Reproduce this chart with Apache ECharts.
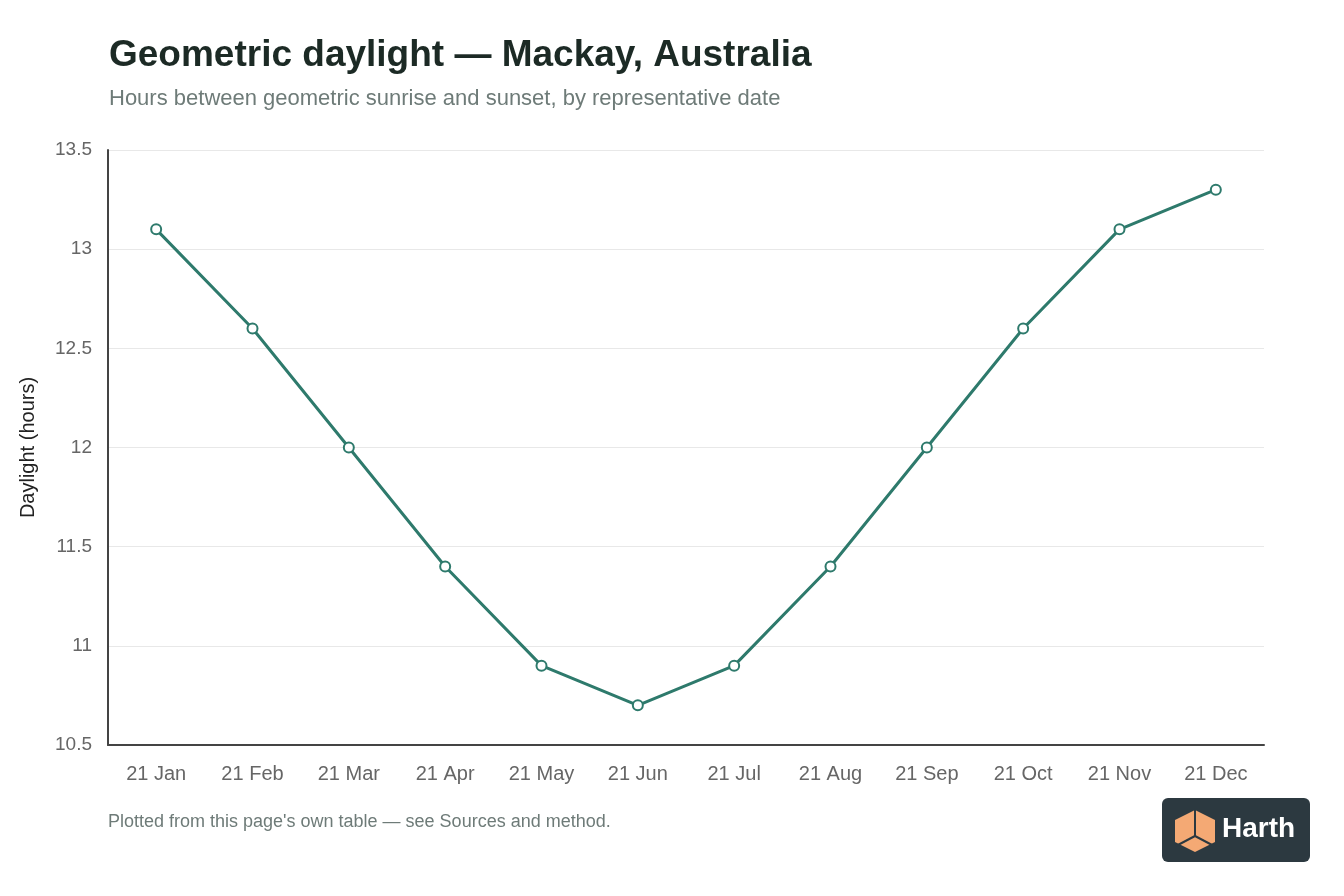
<!DOCTYPE html>
<html>
<head>
    <meta charset="utf-8">
    <title>Geometric daylight - Mackay</title>
    <script src="https://cdn.jsdelivr.net/npm/echarts@6/dist/echarts.min.js"></script>
    <style>
        html, body {margin:0;padding:0;background:#fff;}
        #chart {width:1344px;height:896px;}
    </style>
</head>
<body>
<div id="chart"></div>
<script>
    // data
    var dates = ['21 Jan','21 Feb','21 Mar','21 Apr','21 May','21 Jun','21 Jul','21 Aug','21 Sep','21 Oct','21 Nov','21 Dec'];
    var daylight = [13.1, 12.6, 12.0, 11.4, 10.9, 10.7, 10.9, 11.4, 12.0, 12.6, 13.1, 13.3];
    var yTicks = [10.5, 11, 11.5, 12, 12.5, 13, 13.5];

    var font = 'Liberation Sans, Arial, Helvetica, sans-serif';
    var chart = echarts.init(document.getElementById('chart'));
    chart.setOption({
        animation: false,
        backgroundColor: '#ffffff',
        title: {
            text: 'Geometric daylight — Mackay, Australia',
            subtext: 'Hours between geometric sunrise and sunset, by representative date',
            left: 104,
            top: 32,
            itemGap: 14,
            textStyle: {fontFamily: font, fontSize: 37, fontWeight: 'bold', color: '#1c2a25'},
            subtextStyle: {fontFamily: font, fontSize: 22, color: '#6e7b78'}
        },
        grid: {left: 108, right: 80, top: 150, bottom: 151},
        xAxis: {
            type: 'category',
            data: dates,
            boundaryGap: true,
            axisLine: {lineStyle: {color: '#444', width: 2}},
            axisTick: {show: false},
            axisLabel: {fontFamily: font, fontSize: 20, color: '#666', margin: 19}
        },
        yAxis: {
            type: 'value',
            min: yTicks[0],
            max: yTicks[yTicks.length - 1],
            interval: 0.5,
            name: 'Daylight (hours)',
            nameLocation: 'middle',
            nameGap: 70,
            nameTextStyle: {fontFamily: font, fontSize: 20, color: '#222'},
            axisLine: {show: true, lineStyle: {color: '#444', width: 2}},
            axisTick: {show: false},
            axisLabel: {fontFamily: font, fontSize: 19, color: '#666', margin: 16},
            splitLine: {lineStyle: {color: '#e8e8e8', width: 1}}
        },
        series: [{
            name: 'Daylight',
            type: 'line',
            data: daylight,
            symbol: 'circle',
            symbolSize: 10,
            itemStyle: {color: '#ffffff', borderColor: '#2e7a6c', borderWidth: 2},
            lineStyle: {color: '#2e7a6c', width: 3}
        }],
        graphic: [
            {
                type: 'text', left: 108, top: 813,
                style: {text: "Plotted from this page's own table — see Sources and method.", font: '18px ' + font, fill: '#6e7b78'}
            },
            {
                type: 'group', left: 1162, top: 798,
                children: [
                    {type: 'rect', shape: {x: 0, y: 0, width: 148, height: 64, r: 6}, style: {fill: '#2c3940'}},
                    {type: 'polygon', shape: {points: [[33, 12], [53, 22], [53, 44], [33, 54], [13, 44], [13, 22]]}, style: {fill: '#f4a974'}},
                    {type: 'polyline', shape: {points: [[33, 12], [33, 38]]}, style: {stroke: '#2c3940', lineWidth: 2, fill: null}},
                    {type: 'polyline', shape: {points: [[14, 48], [33, 38], [52, 48]]}, style: {stroke: '#2c3940', lineWidth: 2, fill: null}},
                    {type: 'text', style: {x: 60, y: 17, text: 'Harth', font: 'bold 28px ' + font, fill: '#ffffff'}}
                ]
            }
        ]
    });
</script>
</body>
</html>
